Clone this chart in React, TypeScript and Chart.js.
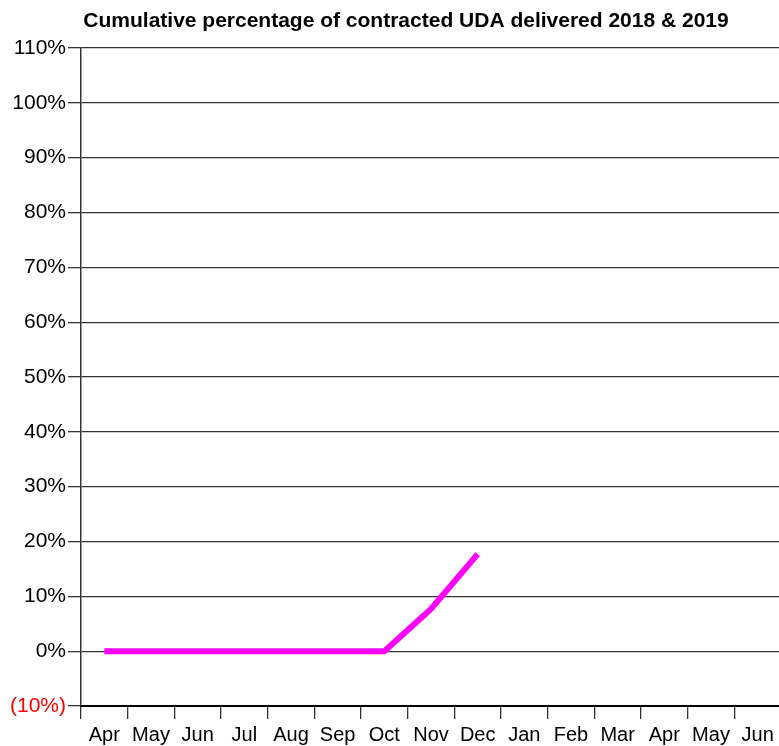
import React, { useEffect, useRef } from "react";
import { Chart, registerables } from "chart.js";

Chart.register(...registerables);

const TITLE = "Cumulative percentage of contracted UDA delivered 2018 & 2019";
const months = ["Apr", "May", "Jun", "Jul", "Aug", "Sep", "Oct", "Nov", "Dec", "Jan", "Feb", "Mar", "Apr", "May", "Jun"];
const cumulativePct: (number | null)[] = [0, 0, 0, 0, 0, 0, 0, 7.7, 17.7, null, null, null, null, null, null];
const yMin = -10;
const yMax = 110;
const yStep = 10;

const FONT = "'Liberation Sans', Arial, sans-serif";

export default function App() {
  const ref = useRef<HTMLCanvasElement | null>(null);

  useEffect(() => {
    document.body.style.margin = "0";
    const canvas = ref.current;
    if (!canvas) return;
    const titlePlugin = {
      id: "customTitle",
      afterDraw(chart: any) {
        const ctx = chart.ctx;
        ctx.save();
        ctx.font = `bold 21px ${FONT}`;
        ctx.fillStyle = "#000";
        ctx.textAlign = "center";
        ctx.textBaseline = "alphabetic";
        ctx.fillText(TITLE, 406, 27);
        ctx.restore();
      },
    };
    const chart = new Chart(canvas, {
      type: "line",
      data: {
        labels: months,
        datasets: [
          {
            data: cumulativePct,
            borderColor: "#FF00FF",
            backgroundColor: "#FF00FF",
            borderWidth: 6,
            pointRadius: 0,
            tension: 0,
            spanGaps: false,
            fill: false,
          },
        ],
      },
      options: {
        responsive: false,
        animation: false,
        layout: { padding: { top: 48, left: 0, right: 0, bottom: 0 } },
        plugins: {
          legend: { display: false },
          title: { display: false },
          tooltip: { enabled: false },
        },
        scales: {
          x: {
            type: "category",
            offset: true,
            grid: {
              offset: true,
              drawOnChartArea: false,
              drawTicks: true,
              tickLength: 13,
              color: "#333",
              lineWidth: 1.3,
            },
            border: { display: true, color: "#000", width: 2 },
            ticks: {
              color: "#000",
              font: { family: FONT, size: 20 },
              padding: 4,
              maxRotation: 0,
              autoSkip: false,
            },
            afterFit(scale: any) {
              scale.height = 40;
            },
          },
          y: {
            min: yMin,
            max: yMax,
            grid: {
              color: "#333",
              lineWidth: 1.3,
              drawTicks: true,
              tickLength: 13,
            },
            border: { display: true, color: "#333", width: 1.5 },
            ticks: {
              stepSize: yStep,
              padding: 2,
              font: { family: FONT, size: 21 },
              color: (c: any) => (c.tick && c.tick.value < 0 ? "#FF0000" : "#000"),
              callback: (v: any) => (v < 0 ? `(${Math.abs(v)}%)` : `${v}%`),
            },
            afterFit(scale: any) {
              scale.width = 81;
            },
          },
        },
      },
      plugins: [titlePlugin],
    });
    return () => chart.destroy();
  }, []);

  return (
    <div style={{ position: "absolute", left: 0, top: 0, width: 779, height: 746, overflow: "hidden", background: "#fff" }}>
      <canvas ref={ref} width={781} height={746} style={{ display: "block" }} />
    </div>
  );
}
